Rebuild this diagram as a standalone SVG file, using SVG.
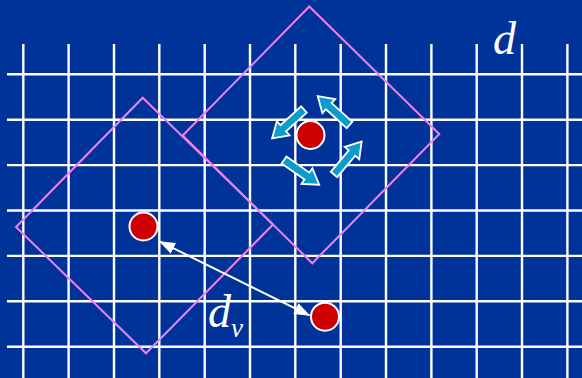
<svg xmlns="http://www.w3.org/2000/svg" width="582" height="378" viewBox="0 0 582 378">
  <defs>
    <style>
      .grid line { stroke: #ffffff; stroke-width: 2.4; }
      .sq { fill: none; stroke: #ee82ee; stroke-width: 2; }
      .dot { fill: #cc0000; stroke: #ffffff; stroke-width: 2; }
      .blk { fill: #0a9ccc; stroke: #ffffff; stroke-width: 1.8; stroke-linejoin: miter; }
      .lbl { font-family: "Liberation Serif", "Times New Roman", serif; font-style: italic; fill: #ffffff; }
      .conn { stroke: #ffffff; stroke-width: 2; fill: none; }
    </style>
    <marker id="ah" viewBox="0 0 16 12" refX="15" refY="6" markerWidth="16" markerHeight="12" markerUnits="userSpaceOnUse" orient="auto-start-reverse">
      <path d="M0,0 L16,6 L0,12 Z" fill="#ffffff"/>
    </marker>
    <path id="barrow" d="M0,-4.2 L28,-4.2 L28,-9.5 L43,0 L28,9.5 L28,4.2 L0,4.2 Z"/>
  </defs>
  <rect x="0" y="0" width="582" height="378" fill="#003399"/>
  <g id="grid" class="grid">
    <line x1="7" y1="74.3" x2="582" y2="74.3"/>
    <line x1="7" y1="119.7" x2="582" y2="119.7"/>
    <line x1="7" y1="165.1" x2="582" y2="165.1"/>
    <line x1="7" y1="210.5" x2="582" y2="210.5"/>
    <line x1="7" y1="255.9" x2="582" y2="255.9"/>
    <line x1="7" y1="301.3" x2="582" y2="301.3"/>
    <line x1="7" y1="346.7" x2="582" y2="346.7"/>
    <line x1="23.3" y1="44" x2="23.3" y2="378"/>
    <line x1="68.6" y1="44" x2="68.6" y2="378"/>
    <line x1="114" y1="44" x2="114" y2="378"/>
    <line x1="159.3" y1="44" x2="159.3" y2="378"/>
    <line x1="204.7" y1="44" x2="204.7" y2="378"/>
    <line x1="250" y1="44" x2="250" y2="378"/>
    <line x1="295.3" y1="44" x2="295.3" y2="378"/>
    <line x1="340.7" y1="44" x2="340.7" y2="378"/>
    <line x1="386" y1="44" x2="386" y2="378"/>
    <line x1="431.4" y1="44" x2="431.4" y2="378"/>
    <line x1="476.7" y1="44" x2="476.7" y2="378"/>
    <line x1="522" y1="44" x2="522" y2="378"/>
    <line x1="567.4" y1="44" x2="567.4" y2="378"/>
  </g>
  <g id="square-left">
    <polygon class="sq" points="142.7,97.7 273,224.5 146,353.3 16,227"/>
  </g>
  <g id="square-right">
    <polygon class="sq" points="309.3,6.5 439.3,134 312.3,263.3 182.7,135.5"/>
  </g>
  <g id="connectors">
    <line class="conn" x1="160" y1="241.7" x2="309.3" y2="315.3" marker-start="url(#ah)" marker-end="url(#ah)"/>
  </g>
  <g id="rot-arrows">
    <use href="#barrow" class="blk" transform="translate(304,109.5) rotate(137.9)"/>
    <use href="#barrow" class="blk" transform="translate(349.5,125) rotate(-137.7)"/>
    <use href="#barrow" class="blk" transform="translate(284,160) rotate(35)"/>
    <use href="#barrow" class="blk" transform="translate(334,174.5) rotate(-50)"/>
  </g>
  <g id="dot-center">
    <circle class="dot" cx="310.5" cy="135" r="14"/>
  </g>
  <g id="dot-left">
    <circle class="dot" cx="143.5" cy="226.5" r="14"/>
  </g>
  <g id="dot-right">
    <circle class="dot" cx="325" cy="316.7" r="14"/>
  </g>
  <g id="labels">
    <text class="lbl" x="493" y="54" font-size="46">d</text>
    <text class="lbl" x="208" y="326.5" font-size="46">d</text>
    <text class="lbl" x="231" y="337" font-size="27">v</text>
  </g>
</svg>
